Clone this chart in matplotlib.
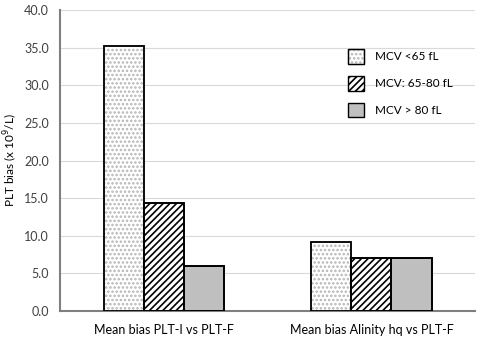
import numpy as np
import matplotlib as mpl
import matplotlib.pyplot as plt
from matplotlib.patches import Patch

mpl.use('Agg')

plt.rcParams['font.family'] = ['Lato', 'DejaVu Sans']
plt.rcParams['hatch.linewidth'] = 1.2

categories = ['Mean bias PLT-I vs PLT-F', 'Mean bias Alinity hq vs PLT-F']
series_names = ['MCV <65 fL', 'MCV: 65-80 fL', 'MCV > 80 fL']
low_mcv = [35.2, 9.2]
mid_mcv = [14.3, 7.1]
high_mcv = [6.0, 7.1]

fig = plt.figure(figsize=(4.8, 3.37), dpi=100)
ax = fig.add_axes([0.125, 0.077, 0.865, 0.893])

x = np.arange(len(categories))
w = 0.193
# (facecolor, hatch, hatch/edge colour)
styles = [
    ('white', '....', '#b5b5b5'),
    ('white', '/////', 'black'),
    ('#bfbfbf', None, 'black'),
]
data = [low_mcv, mid_mcv, high_mcv]

for i, (vals, (fc, hatch, hc)) in enumerate(zip(data, styles)):
    ax.bar(x + (i - 1) * w, vals, w, facecolor=fc, hatch=hatch,
           edgecolor=hc, linewidth=1.2, zorder=3)
    # black outline on top
    ax.bar(x + (i - 1) * w, vals, w, facecolor='none', edgecolor='black', linewidth=1.3, zorder=4)

ax.set_xlim(-0.5, 1.5)
ax.set_ylim(0, 40)
ticks = np.arange(0, 40.1, 5)
ax.set_yticks(ticks)
ax.set_yticklabels([f'{v:.1f}' for v in ticks], fontsize=9, color='#404040')
ax.set_xticks(x)
ax.set_xticklabels(categories, fontsize=9, color='black')
ax.tick_params(axis='y', length=0, pad=8)
ax.tick_params(axis='x', length=0, pad=9)
ax.grid(axis='y', color='#d9d9d9', linewidth=0.8, zorder=0)
for s in ['top', 'right']:
    ax.spines[s].set_visible(False)
for s in ['left', 'bottom']:
    ax.spines[s].set_color('#7f7f7f')
    ax.spines[s].set_linewidth(1.5)
ax.set_ylabel('PLT bias (x 10$^9$/L)', fontsize=8.5, labelpad=3)

handles = [Patch(facecolor=fc, hatch=hatch, edgecolor=hc, linewidth=1.0) for fc, hatch, hc in styles]
handles[0] = (Patch(facecolor='white', hatch='....', edgecolor='#b5b5b5'),
              Patch(facecolor='none', edgecolor='black', linewidth=1.0))
leg = ax.legend(handles, series_names, loc='upper left', bbox_to_anchor=(0.703, 0.885),
                bbox_transform=fig.transFigure, frameon=False, fontsize=8.5,
                handlelength=1.35, handleheight=1.5, labelspacing=1.05, handletextpad=0.9)

fig.savefig('out.png', dpi=100)
